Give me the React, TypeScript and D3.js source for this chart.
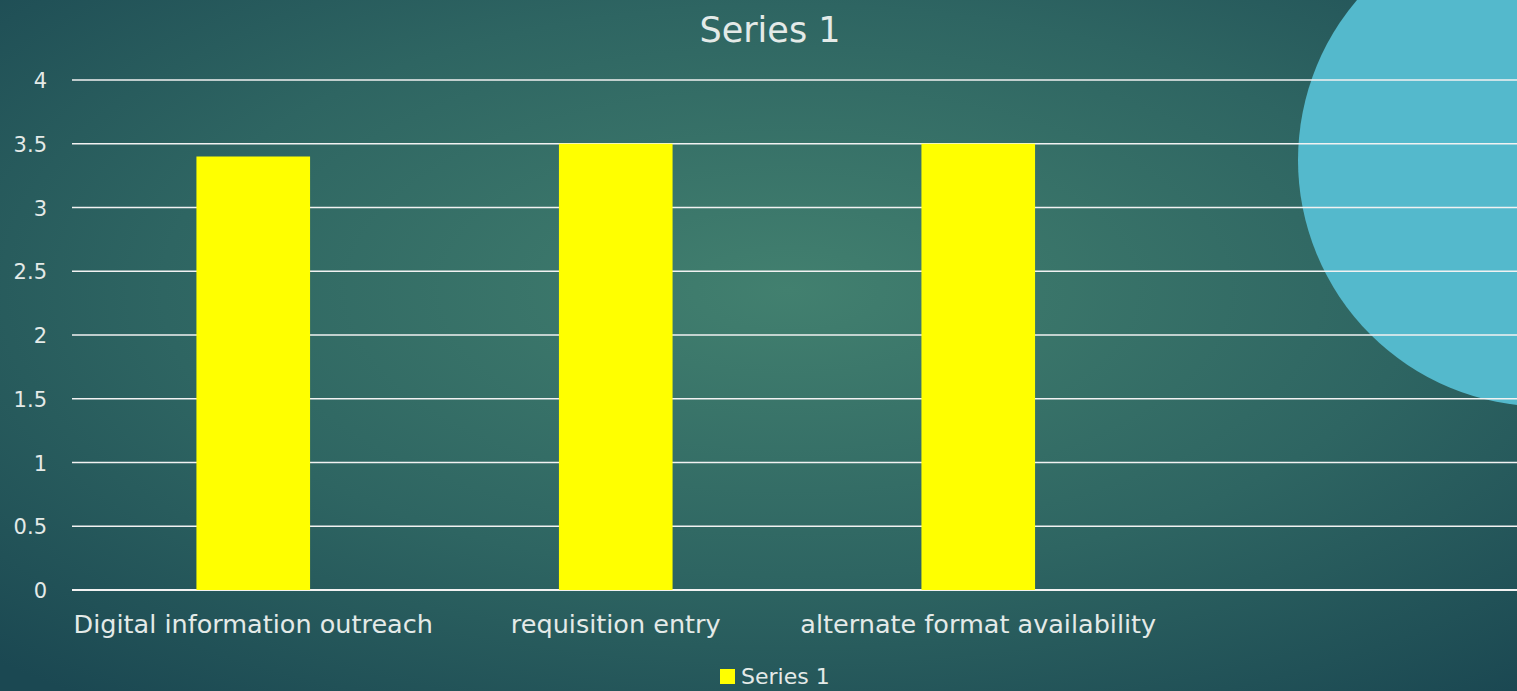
import React from "react";
import * as d3 from "d3";

const categories = ["Digital information outreach", "requisition entry", "alternate format availability", ""];
const values: (number | null)[] = [3.4, 3.5, 3.5, null];
const yTicks = [0, 0.5, 1, 1.5, 2, 2.5, 3, 3.5, 4];
const seriesName = "Series 1";

const W = 1517;
const H = 691;
const FONT = "'DejaVu Sans', Verdana, sans-serif";
const TEXT = "#E4EAE8";

export default function App() {
  const x = d3.scaleBand<string>().domain(categories.map((c, i) => String(i))).range([72, 1522]).padding(0);
  const y = d3.scaleLinear().domain([0, 4]).range([590, 80]);
  const bw = x.bandwidth() / 3.19;

  return (
    <svg width={W} height={H} style={{ position: "absolute", left: 0, top: 0, display: "block" }}>
      <defs>
        <radialGradient id="bg" cx="52%" cy="42%" r="75%" fx="52%" fy="42%">
          <stop offset="0%" stopColor="#42806F" />
          <stop offset="55%" stopColor="#2E6562" />
          <stop offset="100%" stopColor="#1B4852" />
        </radialGradient>
      </defs>
      <rect x={0} y={0} width={W} height={H} fill="url(#bg)" />
      <circle cx={1544.5} cy={160} r={246.5} fill="#54B9CC" />
      <text x={770} y={42} textAnchor="middle" fontFamily={FONT} fontSize={35} fill={TEXT}>
        {seriesName}
      </text>
      {yTicks.map((t) => (
        <g key={t}>
          <line x1={72} x2={W} y1={y(t)} y2={y(t)} stroke="#F2F2F2" strokeWidth={t === 0 ? 2 : 1.6} />
          <text x={47} y={y(t) + 8} textAnchor="end" fontFamily={FONT} fontSize={21} fill={TEXT}>
            {t}
          </text>
        </g>
      ))}
      {values.map((v, i) =>
        v == null ? null : (
          <rect
            key={i}
            x={(x(String(i)) as number) + x.bandwidth() / 2 - bw / 2}
            y={y(v)}
            width={bw}
            height={y(0) - y(v)}
            fill="#FFFF00"
          />
        )
      )}
      {categories.map((c, i) => (
        <text
          key={i}
          x={(x(String(i)) as number) + x.bandwidth() / 2}
          y={633}
          textAnchor="middle"
          fontFamily={FONT}
          fontSize={25.5}
          fill={TEXT}
        >
          {c}
        </text>
      ))}
      <rect x={720} y={669} width={15} height={15} fill="#FFFF00" />
      <text x={741} y={684} fontFamily={FONT} fontSize={22} fill={TEXT}>
        {seriesName}
      </text>
    </svg>
  );
}
